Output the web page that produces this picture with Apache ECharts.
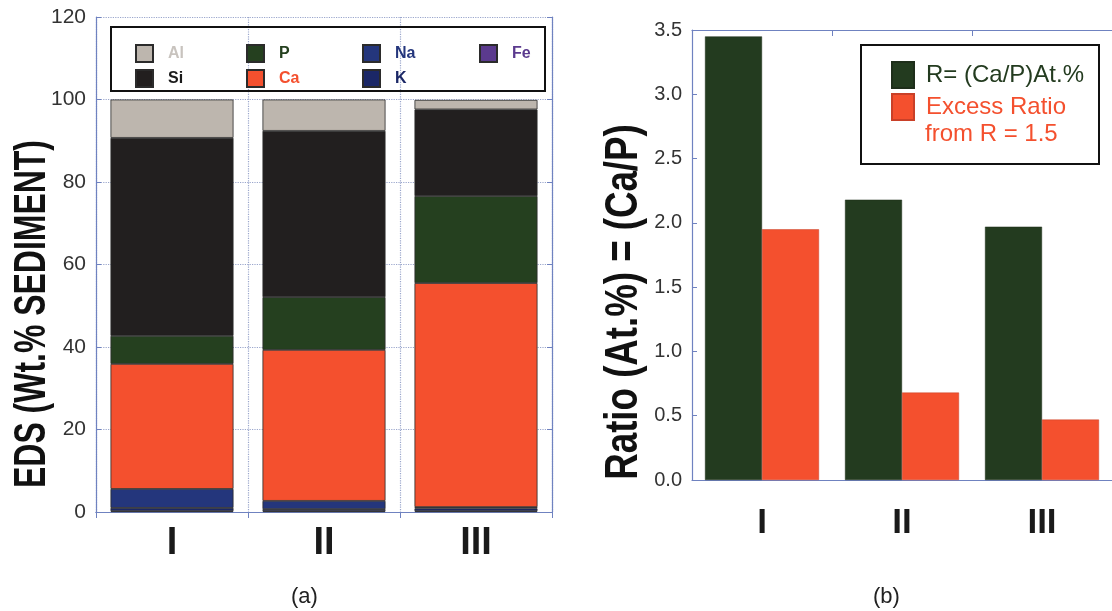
<!DOCTYPE html>
<html>
<head>
<meta charset="utf-8">
<script src="https://cdn.jsdelivr.net/npm/echarts@6/dist/echarts.min.js"></script>
<style>
html,body{margin:0;padding:0;background:#ffffff;}
#chart{width:1112px;height:611px;}
</style>
</head>
<body>
<div id="chart"></div>
<script>
// ---- data ----
const categories = ['I', 'II', 'III'];
// panel (a): EDS composition, Wt.% (stacked bottom -> top: Fe, K, Na, Ca, P, Si, Al)
const fe = [0.2, 0.2, 0.2];
const k  = [0.8, 0.5, 0.7];
const na = [4.6, 2.0, 0.3];
const ca = [30.3, 36.6, 54.3];
const p  = [6.8, 12.8, 21.1];
const si = [48.0, 40.3, 21.0];
const al = [9.3, 7.6, 2.3];
const edsTicks = [0, 20, 40, 60, 80, 100, 120];
// panel (b): Ca/P ratios
const ratioR = [3.45, 2.18, 1.97];
const excessRatio = [1.95, 0.68, 0.47];
const ratioTicks = [0.0, 0.5, 1.0, 1.5, 2.0, 2.5, 3.0, 3.5];

const C = {
  al: '#bdb6ae', si: '#221f1f', p: '#25401f', ca: '#f4502e',
  na: '#24367c', k: '#1b2766', fe: '#5b3a8e',
  green: '#233b1f', red: '#f4502e', axis: '#6f82c0', grid: '#9aa6cc'
};
const FONT = 'Liberation Sans, Arial, sans-serif';

const chart = echarts.init(document.getElementById('chart'));

function edsSeries(name, data, color) {
  return {
    name: name, type: 'bar', stack: 'eds', xAxisIndex: 0, yAxisIndex: 0,
    data: data, barWidth: 123,
    itemStyle: { color: color, borderColor: '#2b2b2b', borderWidth: 0.8 }
  };
}

const axisLine = { show: true, lineStyle: { color: C.axis, width: 1.2 } };

const option = {
  backgroundColor: '#ffffff',
  animation: false,
  textStyle: { fontFamily: FONT },
  grid: [
    { left: 96, top: 17, width: 456, height: 495 },
    { left: 692, top: 30, width: 428, height: 450 }
  ],
  xAxis: [
    { gridIndex: 0, type: 'category', data: categories, position: 'bottom',
      axisLine: axisLine, axisTick: { show: false },
      axisLabel: { fontSize: 38, fontWeight: 'bold', color: '#1a1a1a', margin: 13, fontFamily: FONT },
      splitLine: { show: true, lineStyle: { color: C.grid, type: 'dotted', width: 1.2 } } },
    { gridIndex: 0, type: 'category', data: categories, position: 'top',
      axisLine: axisLine, axisTick: { show: true, inside: true, length: 6, lineStyle: { color: C.axis } },
      axisLabel: { show: false }, splitLine: { show: false } },
    { gridIndex: 1, type: 'category', data: categories, position: 'bottom',
      axisLine: axisLine, axisTick: { show: false },
      axisLabel: { fontSize: 35, fontWeight: 'bold', color: '#1a1a1a', margin: 26, fontFamily: FONT },
      splitLine: { show: false } },
    { gridIndex: 1, type: 'category', data: categories, position: 'top',
      axisLine: axisLine, axisTick: { show: true, inside: true, length: 6, lineStyle: { color: C.axis } },
      axisLabel: { show: false }, splitLine: { show: false } }
  ],
  yAxis: [
    { gridIndex: 0, type: 'value', min: edsTicks[0], max: edsTicks[edsTicks.length - 1], interval: 20,
      position: 'left',
      axisLine: axisLine,
      axisTick: { show: true, inside: true, length: 5, lineStyle: { color: C.axis } },
      axisLabel: { fontSize: 21, color: '#333', margin: 10, fontFamily: FONT },
      splitLine: { show: true, lineStyle: { color: C.grid, type: 'dotted', width: 1.2 } } },
    { gridIndex: 0, type: 'value', min: 0, max: 120, interval: 20, position: 'right',
      axisLine: axisLine,
      axisTick: { show: true, inside: true, length: 5, lineStyle: { color: C.axis } },
      axisLabel: { show: false }, splitLine: { show: false } },
    { gridIndex: 1, type: 'value', min: ratioTicks[0], max: ratioTicks[ratioTicks.length - 1], interval: 0.5,
      position: 'left',
      axisLine: axisLine,
      axisTick: { show: true, inside: true, length: 5, lineStyle: { color: C.axis } },
      axisLabel: { fontSize: 20, color: '#333', margin: 10, fontFamily: FONT,
                   formatter: function (v) { return v.toFixed(1); } },
      splitLine: { show: false } }
  ],
  legend: [
    { left: 130, top: 39, orient: 'vertical', itemWidth: 17, itemHeight: 17, itemGap: 6,
      icon: 'rect', selectedMode: false,
      textStyle: { fontSize: 16, fontWeight: 'bold', padding: [0, 0, 0, 10], fontFamily: FONT },
      data: [{ name: 'Al', textStyle: { color: '#c8c3be' } }, { name: 'Si', textStyle: { color: '#1a1a1a' } }] },
    { left: 241, top: 39, orient: 'vertical', itemWidth: 17, itemHeight: 17, itemGap: 6,
      icon: 'rect', selectedMode: false,
      textStyle: { fontSize: 16, fontWeight: 'bold', padding: [0, 0, 0, 10], fontFamily: FONT },
      data: [{ name: 'P', textStyle: { color: '#25401f' } }, { name: 'Ca', textStyle: { color: '#f4502e' } }] },
    { left: 357, top: 39, orient: 'vertical', itemWidth: 17, itemHeight: 17, itemGap: 6,
      icon: 'rect', selectedMode: false,
      textStyle: { fontSize: 16, fontWeight: 'bold', padding: [0, 0, 0, 10], fontFamily: FONT },
      data: [{ name: 'Na', textStyle: { color: '#24367c' } }, { name: 'K', textStyle: { color: '#1b2766' } }] },
    { left: 474, top: 39, orient: 'vertical', itemWidth: 17, itemHeight: 17, itemGap: 6,
      icon: 'rect', selectedMode: false,
      textStyle: { fontSize: 16, fontWeight: 'bold', padding: [0, 0, 0, 10], fontFamily: FONT },
      data: [{ name: 'Fe', textStyle: { color: '#5b3a8e' } }] },
    { left: 886, top: 56, orient: 'vertical', itemWidth: 22, itemHeight: 26, itemGap: 4,
      icon: 'rect', selectedMode: false,
      textStyle: { fontSize: 24, padding: [0, 0, 0, 7], fontFamily: FONT },
      data: [{ name: 'R= (Ca/P)At.%', textStyle: { color: '#233b1f' } },
             { name: 'Excess Ratio', textStyle: { color: '#f4502e' } }] }
  ],
  graphic: [
    { type: 'rect', shape: { x: 111, y: 27, width: 434, height: 64 },
      style: { fill: 'none', stroke: '#111', lineWidth: 2 }, z: 10 },
    { type: 'rect', shape: { x: 861, y: 45, width: 238, height: 119 },
      style: { fill: '#ffffff', stroke: '#111', lineWidth: 2 }, z: 1 },
    { type: 'text', left: 925, top: 122, z: 20,
      style: { text: 'from R = 1.5', fill: '#f4502e', font: '24px ' + FONT } },
    { type: 'text', x: 33, y: 314, rotation: Math.PI / 2, scaleX: 0.71, z: 20,
      style: { text: 'EDS (Wt.% SEDIMENT)', fill: '#111', font: 'bold 45px ' + FONT,
               textAlign: 'center', textVerticalAlign: 'middle' } },
    { type: 'text', x: 624, y: 302, rotation: Math.PI / 2, scaleX: 0.78, z: 20,
      style: { text: 'Ratio (At.%) = (Ca/P)', fill: '#111', font: 'bold 47px ' + FONT,
               textAlign: 'center', textVerticalAlign: 'middle' } },
    { type: 'text', left: 291, top: 586,
      style: { text: '(a)', fill: '#222', font: '22px ' + FONT } },
    { type: 'text', left: 873, top: 586,
      style: { text: '(b)', fill: '#222', font: '22px ' + FONT } }
  ],
  series: [
    edsSeries('Fe', fe, C.fe),
    edsSeries('K', k, C.k),
    edsSeries('Na', na, C.na),
    edsSeries('Ca', ca, C.ca),
    edsSeries('P', p, C.p),
    edsSeries('Si', si, C.si),
    edsSeries('Al', al, C.al),
    { name: 'R= (Ca/P)At.%', type: 'bar', xAxisIndex: 2, yAxisIndex: 2, data: ratioR,
      barWidth: 57, barGap: '0%', itemStyle: { color: C.green, borderColor: '#1e2e1a', borderWidth: 0.5 } },
    { name: 'Excess Ratio', type: 'bar', xAxisIndex: 2, yAxisIndex: 2, data: excessRatio,
      barWidth: 57, barGap: '0%', itemStyle: { color: C.red, borderColor: '#c94028', borderWidth: 0.5 } }
  ]
};
chart.setOption(option);
</script>
</body>
</html>
